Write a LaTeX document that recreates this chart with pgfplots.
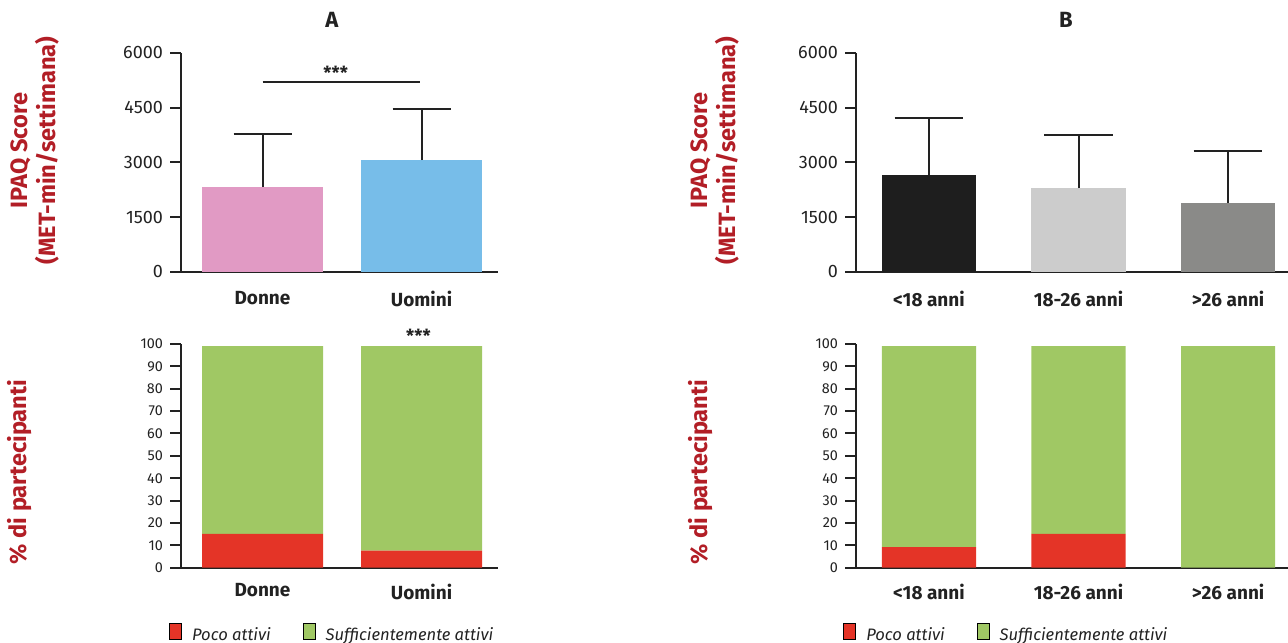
\documentclass[border=0pt]{standalone}
\usepackage{fontspec}
\setmainfont{Fira Sans}
\usepackage{pgfplots}
\pgfplotsset{compat=1.18}
\definecolor{axred}{RGB}{178,30,38}
\definecolor{pinkA}{RGB}{225,154,196}
\definecolor{blueA}{RGB}{119,189,233}
\definecolor{blackB}{RGB}{30,30,30}
\definecolor{lgrayB}{RGB}{204,204,204}
\definecolor{dgrayB}{RGB}{138,138,136}
\definecolor{redP}{RGB}{228,52,39}
\definecolor{greenS}{RGB}{160,200,100}
\definecolor{axisc}{RGB}{34,34,34}
\pgfplotsset{
  base/.style={
    scale only axis,
    axis x line*=bottom, axis y line*=left,
    axis line style={axisc, line width=1pt},
    ymin=0, clip=false,
    major tick length=5.5pt,
    tick align=outside,
    ytick style={axisc, line width=1pt},
    xtick style={draw=none},
    yticklabel style={text=axisc, /pgf/number format/1000 sep={}},
    /pgf/number format/assume math mode=true,
    scaled y ticks=false,
    ylabel style={anchor=center, align=center, text=axred, font=\bfseries\fontsize{11.8}{14}\selectfont},
  },
  top/.style={base, ymax=6000, ytick={0,1500,3000,4500,6000},
    xticklabel style={font=\bfseries\fontsize{9.5}{11}\selectfont, text=axisc, yshift=-0.5pt},
    yticklabel style={font=\fontsize{9}{10}\selectfont},
    ylabel={IPAQ Score\\(MET-min/settimana)},
    every axis title shift=0pt,
    title style={font=\bfseries\fontsize{11}{12}\selectfont, text=axisc, anchor=center}},
  bottom/.style={base, ymax=100, ytick={0,10,...,100},
    xticklabel style={font=\bfseries\fontsize{9.5}{11}\selectfont, text=axisc, yshift=1pt},
    yticklabel style={font=\fontsize{7.2}{8}\selectfont},
    ylabel={\% di partecipanti},
    legend columns=2,
    legend image code/.code={\path[#1, draw=none] (0pt,-4.2pt) rectangle (8pt,4.2pt);},
    legend style={draw=none, fill=none, inner sep=0pt, anchor=west,
      font=\itshape\fontsize{8.3}{10}\selectfont, text=axisc,
      /tikz/every odd column/.append style={column sep=3pt},
      /tikz/every even column/.append style={column sep=14pt}}},
  ebl/.style={error bars/.cd, y dir=plus, y explicit, error mark=|,
    error bar style={draw=axisc, line width=1pt},
    error mark options={draw=axisc, line width=1pt, mark size=#1}},
}
\begin{document}
\begin{tikzpicture}[x=1pt,y=1pt]
\useasboundingbox (0,0) rectangle (644,321);

% ---- A top
\begin{axis}[top, at={(90.5pt,185pt)}, anchor=south west,
  width=158.5pt, height=109.5pt,
  xmin=-0.5126, xmax=1.481, xtick={0,1}, xticklabels={Donne,Uomini},
  ybar, bar width=0.761,
  ylabel style={at={(axis description cs:-0.4606,0.555)}},
  title={A}, title style={at={(axis description cs:0.476,1.151)}}]
\addplot[fill=pinkA, draw=none, bar shift=0pt, ebl=14.5pt] coordinates {(0,2323) +- (0,1454)};
\addplot[fill=blueA, draw=none, bar shift=0pt, ebl=14.5pt] coordinates {(1,3064) +- (0,1399)};
\draw[axisc, line width=1pt] (axis cs:0,5204) -- (axis cs:0.99,5204);
\node[font=\bfseries\fontsize{9}{10}\selectfont, text=axisc] at (axis cs:0.46,5470) {***};
\end{axis}

% ---- B top
\begin{axis}[top, at={(428pt,185pt)}, anchor=south west,
  width=216pt, height=109.5pt,
  xmin=-0.488, xmax=2.401, xtick={0,1,2}, xticklabels={<18 anni,18-26 anni,>26 anni},
  ybar, bar width=0.629,
  ylabel style={at={(axis description cs:-0.326,0.555)}},
  title={B}, title style={at={(axis description cs:0.486,1.151)}}]
\addplot[fill=blackB, draw=none, bar shift=0pt, ebl=17.2pt] coordinates {(0,2662) +- (0,1545)};
\addplot[fill=lgrayB, draw=none, bar shift=0pt, ebl=17.2pt] coordinates {(1,2296) +- (0,1463)};
\addplot[fill=dgrayB, draw=none, bar shift=0pt, ebl=17.2pt] coordinates {(2,1893) +- (0,1418)};
\end{axis}

% ---- A bottom
\begin{axis}[bottom, at={(90.5pt,37.15pt)}, anchor=south west,
  width=158.5pt, height=111.85pt,
  xmin=-0.5126, xmax=1.481, xtick={0,1}, xticklabels={Donne,Uomini},
  ybar stacked, bar width=0.761,
  ylabel style={at={(axis description cs:-0.508,0.428)}},
  legend style={at={(axis description cs:-0.038,-0.30)}}]
\addplot[fill=redP, draw=none] coordinates {(0,15.1) (1,7.6)};
\addplot[fill=greenS, draw=none] coordinates {(0,83.9) (1,91.4)};
\legend{Poco attivi, Sufficientemente attivi}
\node[font=\bfseries\fontsize{9}{10}\selectfont, text=axisc] at (axis cs:0.98,103.6) {***};
\end{axis}

% ---- B bottom
\begin{axis}[bottom, at={(428pt,37.15pt)}, anchor=south west,
  width=216pt, height=111.85pt,
  xmin=-0.488, xmax=2.401, xtick={0,1,2}, xticklabels={<18 anni,18-26 anni,>26 anni},
  ybar stacked, bar width=0.629,
  ylabel style={at={(axis description cs:-0.359,0.428)}},
  legend style={at={(axis description cs:-0.030,-0.30)}}]
\addplot[fill=redP, draw=none] coordinates {(0,9.2) (1,15.1) (2,0)};
\addplot[fill=greenS, draw=none] coordinates {(0,89.8) (1,83.9) (2,99)};
\legend{Poco attivi, Sufficientemente attivi}
\end{axis}
\end{tikzpicture}
\end{document}
